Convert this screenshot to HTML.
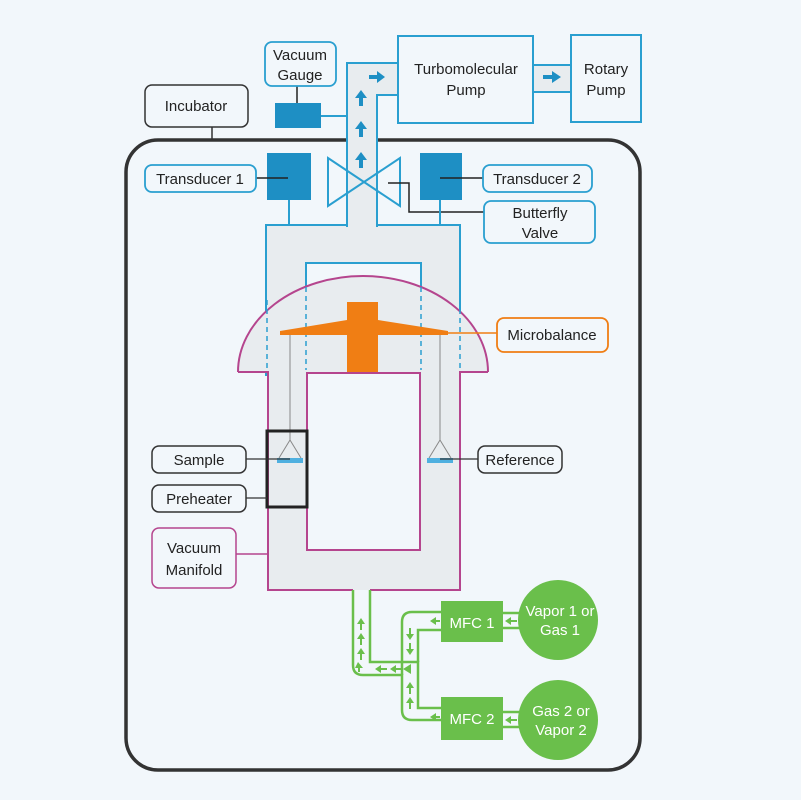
<!DOCTYPE html>
<html><head><meta charset="utf-8"><style>
html,body{margin:0;padding:0;background:#f2f7fb}
svg{display:block}
text{font-family:"Liberation Sans",sans-serif;font-size:15px;fill:#222;text-anchor:middle}
</style></head><body>
<svg width="801" height="800" viewBox="0 0 801 800" xmlns="http://www.w3.org/2000/svg">
<rect width="801" height="800" fill="#f2f7fb"/>
<!-- Incubator -->
<rect x="126" y="140" width="514" height="630" rx="32" fill="none" stroke="#333" stroke-width="3.5"/>
<line x1="212" y1="127" x2="212" y2="140" stroke="#333" stroke-width="1.5"/>
<rect x="145" y="85" width="103" height="42" rx="7" fill="#f2f7fb" stroke="#333" stroke-width="1.5"/>
<text x="196" y="111" font-size="16">Incubator</text>

<!-- chamber gray upper -->
<rect x="266" y="225" width="194" height="150" fill="#e8ecef" stroke="#2a9fd0" stroke-width="2"/>
<rect x="306" y="263" width="115" height="110" fill="#f2f7fb" stroke="#2a9fd0" stroke-width="2"/>
<!-- tube -->
<path d="M347 227 V63 H398 V95 H377 V227" fill="#e8ecef" stroke="#2a9fd0" stroke-width="2"/>
<rect x="348" y="200" width="28" height="30" fill="#e8ecef"/>
<rect x="533" y="65" width="38" height="27" fill="#e8ecef" stroke="#2a9fd0" stroke-width="2"/>
<!-- arrows -->
<g fill="#1e8fc4">
<path d="M369 75 h8 v-4 l8 6 l-8 6 v-4 h-8z"/>
<path d="M543 75 h9 v-4 l9 6 l-9 6 v-4 h-9z"/>
<path d="M359 106 v-8 h-4 l6 -8 l6 8 h-4 v8z"/>
<path d="M359 137 v-8 h-4 l6 -8 l6 8 h-4 v8z"/>
<path d="M359 168 v-8 h-4 l6 -8 l6 8 h-4 v8z"/>
</g>
<!-- valve -->
<path d="M328 158 L400 206 V158 L328 206 Z" fill="none" stroke="#2a9fd0" stroke-width="2"/>
<polyline points="388,183 409,183 409,212 484,212" fill="none" stroke="#222" stroke-width="1.5"/>
<!-- pumps -->
<rect x="398" y="36" width="135" height="87" fill="#f2f7fb" stroke="#2a9fd0" stroke-width="2"/>
<text x="466" y="74">Turbomolecular</text><text x="466" y="95">Pump</text>
<rect x="571" y="35" width="70" height="87" fill="#f2f7fb" stroke="#2a9fd0" stroke-width="2"/>
<text x="606" y="74">Rotary</text><text x="606" y="95">Pump</text>
<!-- gauge -->
<line x1="321" y1="116" x2="347" y2="116" stroke="#2a9fd0" stroke-width="2"/>
<line x1="297" y1="86" x2="297" y2="104" stroke="#222" stroke-width="1.5"/>
<rect x="275" y="103" width="46" height="25" fill="#1e8fc4"/>
<rect x="265" y="42" width="71" height="44" rx="7" fill="#f2f7fb" stroke="#2a9fd0" stroke-width="1.8"/>
<text x="300" y="60">Vacuum</text><text x="300" y="80">Gauge</text>
<!-- transducers -->
<line x1="289" y1="200" x2="289" y2="226" stroke="#2a9fd0" stroke-width="2"/>
<line x1="440" y1="200" x2="440" y2="226" stroke="#2a9fd0" stroke-width="2"/>
<rect x="267" y="153" width="44" height="47" fill="#1e8fc4"/>
<rect x="420" y="153" width="42" height="47" fill="#1e8fc4"/>
<line x1="256" y1="178" x2="288" y2="178" stroke="#222" stroke-width="1.5"/>
<line x1="440" y1="178" x2="483" y2="178" stroke="#222" stroke-width="1.5"/>
<rect x="145" y="165" width="111" height="27" rx="7" fill="#f2f7fb" stroke="#2a9fd0" stroke-width="1.8"/>
<text x="200" y="184">Transducer 1</text>
<rect x="483" y="165" width="109" height="27" rx="7" fill="#f2f7fb" stroke="#2a9fd0" stroke-width="1.8"/>
<text x="537" y="184">Transducer 2</text>
<rect x="484" y="201" width="111" height="42" rx="7" fill="#f2f7fb" stroke="#2a9fd0" stroke-width="1.8"/>
<text x="540" y="218">Butterfly</text><text x="540" y="238">Valve</text>

<!-- dome -->
<path d="M238 372 A125 96 0 0 1 488 372 Z" fill="#e8ecef" stroke="none"/>
<path d="M238 372 A125 96 0 0 1 488 372" fill="none" stroke="#b5458e" stroke-width="2"/>
<!-- manifold -->
<rect x="268" y="371" width="192" height="219" fill="#e8ecef"/>
<path d="M238 372 H268 V590 H353 M370 590 H460 V372 H488" fill="none" stroke="#b5458e" stroke-width="2"/>
<rect x="307" y="373" width="113" height="177" fill="#f2f7fb" stroke="#b5458e" stroke-width="2"/>
<!-- dashed blue inside dome -->
<g stroke="#2a9fd0" stroke-width="1.5" stroke-dasharray="5,4">
<line x1="267" y1="300" x2="267" y2="370"/><line x1="306" y1="278" x2="306" y2="370"/>
<line x1="421" y1="278" x2="421" y2="370"/><line x1="460" y1="300" x2="460" y2="370"/>
</g>
<!-- microbalance -->
<path d="M280 331 L347 320 V302 H378 V320 L448 331 V335 H378 V372 H347 V335 H280 Z" fill="#f07e14"/>
<line x1="448" y1="333" x2="497" y2="333" stroke="#f07e14" stroke-width="1.5"/>
<rect x="497" y="318" width="111" height="34" rx="7" fill="#f2f7fb" stroke="#f07e14" stroke-width="1.8"/>
<text x="552" y="340">Microbalance</text>
<!-- wires -->
<g stroke="#888" stroke-width="1" fill="none">
<line x1="290" y1="335" x2="290" y2="440"/><path d="M290 440 L279 458 M290 440 L301 458"/>
<line x1="440" y1="335" x2="440" y2="440"/><path d="M440 440 L429 458 M440 440 L451 458"/>
</g>
<rect x="277" y="458" width="26" height="5" fill="#4fb0e0"/>
<rect x="427" y="458" width="26" height="5" fill="#4fb0e0"/>
<!-- preheater -->
<rect x="267" y="431" width="40" height="76" fill="none" stroke="#222" stroke-width="3"/>
<g stroke="#333" stroke-width="1.3">
<line x1="246" y1="459" x2="290" y2="459"/><line x1="246" y1="498" x2="267" y2="498"/>
<line x1="440" y1="459" x2="478" y2="459"/>
</g>
<line x1="236" y1="554" x2="268" y2="554" stroke="#b5458e" stroke-width="1.5"/>
<rect x="152" y="446" width="94" height="27" rx="7" fill="#f2f7fb" stroke="#333" stroke-width="1.5"/>
<text x="199" y="465" font-size="14">Sample</text>
<rect x="152" y="485" width="94" height="27" rx="7" fill="#f2f7fb" stroke="#333" stroke-width="1.5"/>
<text x="199" y="504" font-size="14">Preheater</text>
<rect x="478" y="446" width="84" height="27" rx="7" fill="#f2f7fb" stroke="#333" stroke-width="1.5"/>
<text x="520" y="465" font-size="14">Reference</text>
<rect x="152" y="528" width="84" height="60" rx="7" fill="#f2f7fb" stroke="#b5458e" stroke-width="1.5"/>
<text x="194" y="553" font-size="16">Vacuum</text><text x="194" y="575" font-size="16">Manifold</text>

<!-- gas lines -->
<g fill="none" stroke="#6abf4b" stroke-width="2.5">
<path d="M353 590 V665 Q353 675 363 675 H402 V710 Q402 720 412 720 H441"/>
<path d="M370 590 V662 H418 V708 H441"/>
<path d="M441 612 H412 Q402 612 402 622 V675"/>
<path d="M441 630 H418 V662"/>
<path d="M503 613 H520 M503 628 H520"/>
<path d="M503 712 H520 M503 727 H520"/>
</g>
<g fill="#6abf4b">
<path d="M361 618 l-4 6 h3 v6 h2 v-6 h3z"/><path d="M361 633 l-4 6 h3 v6 h2 v-6 h3z"/>
<path d="M361 648 l-4 6 h3 v6 h2 v-6 h3z"/><path d="M358 662 l-3 6 h3 v4 h2 v-4 h3z"/>
<path d="M375 669 l6 -4 v3 h6 v2 h-6 v3z"/><path d="M390 669 l6 -4 v3 h6 v2 h-6 v3z"/>
<path d="M430 621 l6 -4 v3 h4 v2 h-4 v3z"/><path d="M430 717 l6 -4 v3 h4 v2 h-4 v3z"/>
<path d="M505 621 l6 -4 v3 h6 v2 h-6 v3z"/><path d="M505 720 l6 -4 v3 h6 v2 h-6 v3z"/>
<path d="M410 640 l-4 -6 h3 v-6 h2 v6 h3z"/><path d="M410 655 l-4 -6 h3 v-6 h2 v6 h3z"/>
<path d="M410 682 l-4 6 h3 v6 h2 v-6 h3z"/><path d="M410 697 l-4 6 h3 v6 h2 v-6 h3z"/>
<path d="M403 669 l8 -5 v10z"/>
</g>
<rect x="441" y="601" width="62" height="41" fill="#6abf4b"/>
<text x="472" y="628" style="fill:#fff" font-size="16">MFC 1</text>
<rect x="441" y="697" width="62" height="43" fill="#6abf4b"/>
<text x="472" y="724" style="fill:#fff" font-size="16">MFC 2</text>
<circle cx="558" cy="620" r="40" fill="#6abf4b"/>
<text x="560" y="616" style="fill:#fff" font-size="14">Vapor 1 or</text><text x="560" y="635" style="fill:#fff" font-size="14">Gas 1</text>
<circle cx="558" cy="720" r="40" fill="#6abf4b"/>
<text x="561" y="716" style="fill:#fff" font-size="14">Gas 2 or</text><text x="561" y="735" style="fill:#fff" font-size="14">Vapor 2</text>
</svg>
</body></html>
